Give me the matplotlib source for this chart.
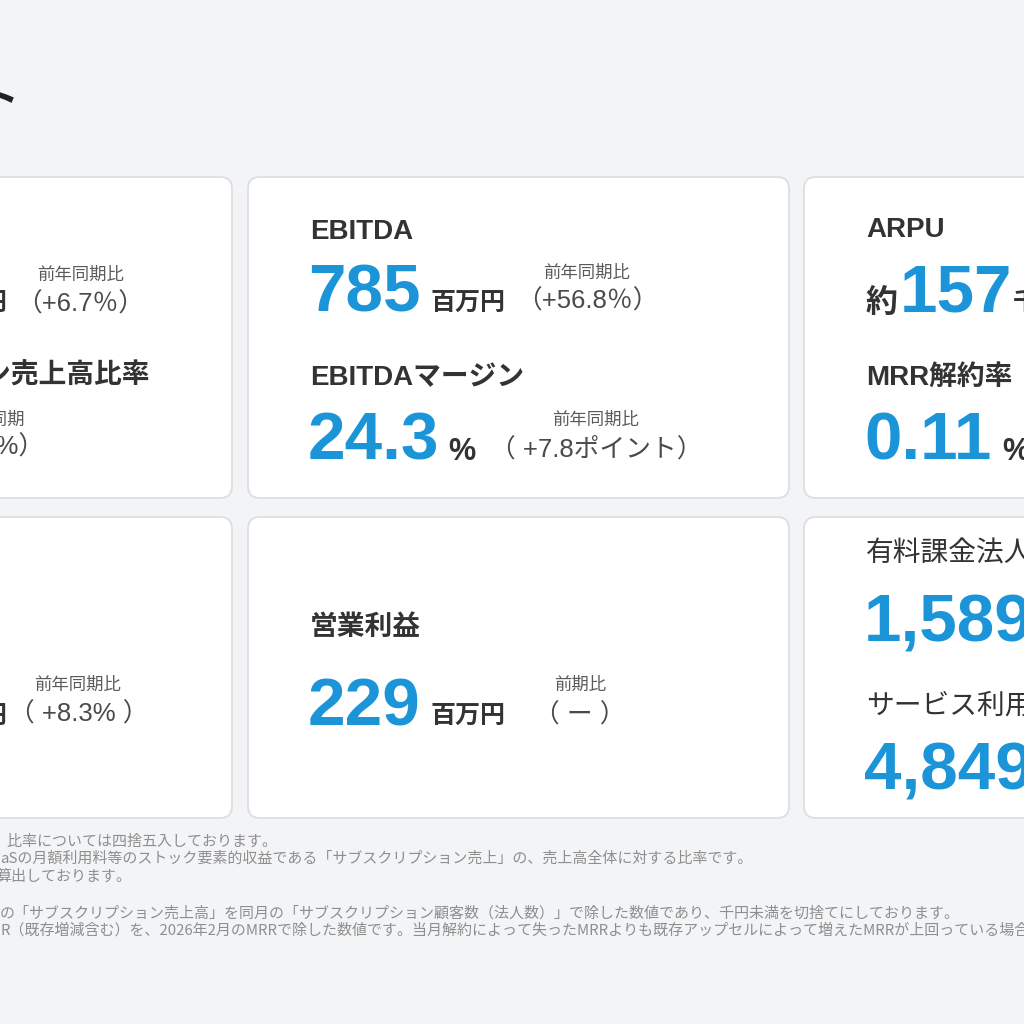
import matplotlib
matplotlib.use("Agg")
import matplotlib.pyplot as plt
from matplotlib.patches import FancyBboxPatch

# KPI data
card_titles = ["EBITDA", "EBITDAマージン", "ARPU", "MRR解約率", "営業利益", "有料課金法人数", "サービス利用社数"]
card_values = ["785", "24.3", "157", "0.11", "229", "1,589", "4,849"]
card_units = ["百万円", "%", "千円", "%", "百万円", "社", "社"]
compare_captions = ["前年同期比", "前年同期比", "", "", "前期比", "", ""]
compare_values = ["（+56.8％）", "（ +7.8ポイント）", "", "", "（ ー ）", "", ""]

# left column, mostly cut off by the crop
left_title = "サブスクリプション売上高比率"
left_captions = ["前年同期比", "前年同期", "前年同期比"]
left_values = ["（+6.7％）", "（+2.4%）", "（ +8.3% ）"]

footnotes = [
    "、比率については四捨五入しております。",
    "aSの月額利用料等のストック要素的収益である「サブスクリプション売上」の、売上高全体に対する比率です。",
    "算出しております。",
    "の「サブスクリプション売上高」を同月の「サブスクリプション顧客数（法人数）」で除した数値であり、千円未満を切捨てにしております。",
    "R（既存増減含む）を、2026年2月のMRRで除した数値です。当月解約によって失ったMRRよりも既存アップセルによって増えたMRRが上回っている場合、マイナスとなります。",
]

BG = "#f3f4f6"
BLUE = "#1b95d8"
DARK = "#333333"
MID = "#4a4a4a"
GREY = "#5a5a5a"
NOTE = "#8e8e8e"
LAT = ["Liberation Sans", "Noto Sans CJK JP"]
JP = ["Noto Sans CJK JP", "DejaVu Sans"]

fig = plt.figure(figsize=(10.24, 10.24), dpi=100)
fig.patch.set_facecolor(BG)
ax = fig.add_axes([0, 0, 1, 1])
ax.set_xlim(0, 1024)
ax.set_ylim(1024, 0)
ax.axis("off")

#cards (x, y, w, h) in pixels
cards = [(-309, 177, 541, 321), (248, 177, 541, 321), (804, 177, 541, 321),
         (-309, 517, 541, 301), (248, 517, 541, 301), (804, 517, 541, 301)]
for (x, y, w, h) in cards:
    ax.add_patch(FancyBboxPatch((x, y), w, h, boxstyle="round,pad=0,rounding_size=12",
                                facecolor="white", edgecolor="#dcdee2", linewidth=1.3))

def txt(x, y, s, size, color=DARK, weight="normal", family=JP, ha="left", va="baseline"):
    ax.text(x, y, s, fontsize=size, color=color, fontweight=weight, family=family, ha=ha, va=va)

# title fragment at top-left
txt(19, 112, "主要指標ハイライト", 28, color="#222222", weight="bold", ha="right")

# card layout: (title x, title y, value y, unit x, caption x, caption y, compare y)
layout = [
    (310, 239, 312, 430, 587, 273, 301),
    (310, 385, 460, 448, 596, 420, 449),
    (866, 237, 312, 1013, None, None, None),
    (866, 385, 460, 1002, None, None, None),
    (310, 635, 725, 430, 580, 685, 715),
    (866, 562, 641, 1060, None, None, None),
    (866, 714, 790, 1060, None, None, None),
]
# the last two titles are set lighter in the slide
title_weights = ["bold", "bold", "bold", "bold", "bold", "normal", "normal"]

for i, (tx, ty, vx0, ux, cx, cy, vy2) in enumerate(layout):
    vy = vx0
    txt(tx, ty, card_titles[i], 20, weight=title_weights[i], family=LAT)
    vx = tx - 2
    if card_titles[i] == "ARPU":
        txt(tx, vy, "約", 23, color=DARK, weight="bold")
        vx = tx + 34
    txt(vx, vy, card_values[i], 48.5, color=BLUE, weight="bold", family=LAT)
    if card_units[i] == "%":
        txt(ux, vy, card_units[i], 22, weight="bold", family=LAT)
    else:
        txt(ux, vy - 2, card_units[i], 18, weight="bold")
    if cx is not None:
        txt(cx, cy, compare_captions[i], 12.5, color=GREY, ha="center", va="center")
        txt(cx, vy2, compare_values[i], 18.5, color=MID, family=LAT, ha="center", va="center")

# left column pieces
txt(8, 310, "百万円", 18, weight="bold", ha="right")
txt(81, 275, left_captions[0], 12.5, color=GREY, ha="center", va="center")
txt(80, 304, left_values[0], 18.5, color=MID, family=LAT, ha="center", va="center")
txt(150, 383, left_title, 20, weight="bold", ha="right")
txt(25, 420, left_captions[1], 12.5, color=GREY, ha="right", va="center")
txt(44, 447, left_values[1], 18.5, color=MID, family=LAT, ha="right", va="center")
txt(8, 723, "百万円", 18, weight="bold", ha="right")
txt(78, 685, left_captions[2], 12.5, color=GREY, ha="center", va="center")
txt(79, 714, left_values[2], 18.5, color=MID, family=LAT, ha="center", va="center")

# footnotes
note_pos = [(-8, 842), (0, 859), (-4, 877), (0, 913), (0, 930)]
for (nx, ny), s in zip(note_pos, footnotes):
    txt(nx, ny, s, 10.8, color=NOTE, va="center")

fig.savefig("out.png", dpi=100, facecolor=BG)
